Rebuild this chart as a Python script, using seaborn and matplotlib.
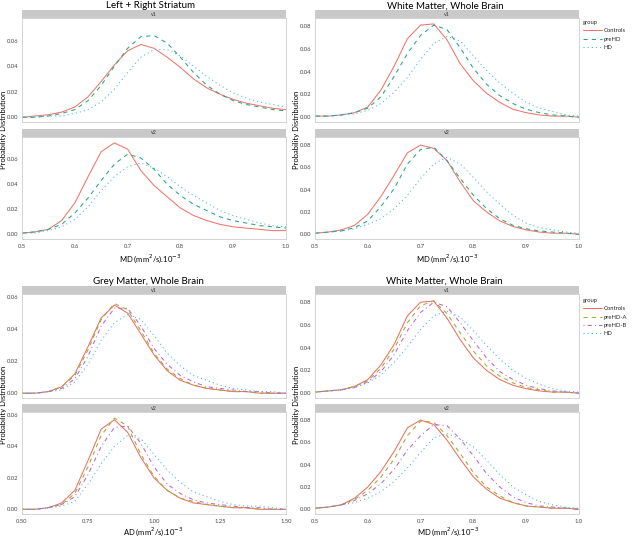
import numpy as np
import pandas as pd
import seaborn as sns
import matplotlib.pyplot as plt
from matplotlib.lines import Line2D
from matplotlib.patches import Rectangle

# eixos x (MD e AD, em mm2/s x 10^-3)
md_x = [0.500, 0.525, 0.550, 0.575, 0.600, 0.625, 0.650, 0.675, 0.700, 0.725, 0.750,
        0.775, 0.800, 0.825, 0.850, 0.875, 0.900, 0.925, 0.950, 0.975, 1.000]
ad_x = [0.50, 0.55, 0.60, 0.65, 0.70, 0.75, 0.80, 0.85, 0.90, 0.95, 1.00,
        1.05, 1.10, 1.15, 1.20, 1.25, 1.30, 1.35, 1.40, 1.45, 1.50]

groups3 = ['Controls', 'preHD', 'HD']
groups4 = ['Controls', 'preHD-A', 'preHD-B', 'HD']

# Left + Right Striatum
str_v1_controls = [0.000, 0.001, 0.002, 0.004, 0.008, 0.016, 0.028, 0.041, 0.052, 0.057, 0.054,
                   0.047, 0.039, 0.030, 0.023, 0.018, 0.014, 0.011, 0.009, 0.007, 0.006]
str_v1_prehd = [0.000, 0.000, 0.001, 0.003, 0.006, 0.013, 0.025, 0.040, 0.054, 0.063, 0.064,
                0.058, 0.047, 0.035, 0.025, 0.018, 0.013, 0.010, 0.008, 0.006, 0.005]
str_v1_hd = [0.000, 0.000, 0.001, 0.001, 0.003, 0.006, 0.012, 0.022, 0.035, 0.047, 0.053,
             0.053, 0.048, 0.040, 0.032, 0.025, 0.019, 0.015, 0.012, 0.010, 0.008]
str_v2_controls = [0.001, 0.002, 0.004, 0.011, 0.025, 0.046, 0.066, 0.073, 0.068, 0.051, 0.039,
                   0.030, 0.021, 0.015, 0.011, 0.008, 0.006, 0.005, 0.004, 0.003, 0.003]
str_v2_prehd = [0.001, 0.002, 0.004, 0.008, 0.017, 0.029, 0.043, 0.056, 0.064, 0.061, 0.052,
                0.040, 0.031, 0.024, 0.019, 0.014, 0.011, 0.009, 0.007, 0.006, 0.005]
str_v2_hd = [0.001, 0.001, 0.003, 0.006, 0.012, 0.022, 0.035, 0.046, 0.054, 0.057, 0.053,
             0.046, 0.038, 0.031, 0.025, 0.019, 0.015, 0.012, 0.009, 0.007, 0.006]

# White Matter, Whole Brain (MD, 3 grupos)
wm_v1_controls = [0.001, 0.001, 0.002, 0.004, 0.009, 0.024, 0.045, 0.069, 0.081, 0.082, 0.068,
                  0.047, 0.032, 0.021, 0.013, 0.007, 0.004, 0.002, 0.001, 0.001, 0.000]
wm_v1_prehd = [0.001, 0.001, 0.002, 0.004, 0.008, 0.018, 0.036, 0.056, 0.072, 0.081, 0.077,
               0.061, 0.043, 0.029, 0.019, 0.012, 0.007, 0.004, 0.002, 0.001, 0.000]
wm_v1_hd = [0.001, 0.001, 0.002, 0.003, 0.006, 0.012, 0.022, 0.035, 0.051, 0.065, 0.071,
            0.067, 0.054, 0.041, 0.030, 0.021, 0.013, 0.008, 0.005, 0.002, 0.001]
wm_v2_controls = [0.001, 0.002, 0.004, 0.008, 0.018, 0.034, 0.053, 0.073, 0.080, 0.077, 0.066,
                  0.047, 0.030, 0.020, 0.012, 0.007, 0.004, 0.002, 0.001, 0.001, 0.000]
wm_v2_prehd = [0.001, 0.002, 0.003, 0.006, 0.012, 0.025, 0.041, 0.063, 0.076, 0.078, 0.066,
               0.050, 0.035, 0.023, 0.014, 0.008, 0.005, 0.003, 0.002, 0.001, 0.000]
wm_v2_hd = [0.001, 0.002, 0.003, 0.005, 0.009, 0.014, 0.023, 0.035, 0.050, 0.063, 0.069,
            0.063, 0.051, 0.038, 0.027, 0.017, 0.010, 0.006, 0.004, 0.002, 0.001]

# Grey Matter, Whole Brain (AD, 4 grupos)
gm_v1_controls = [0.000, 0.000, 0.001, 0.004, 0.012, 0.029, 0.047, 0.055, 0.050, 0.037, 0.024,
                  0.014, 0.008, 0.005, 0.003, 0.002, 0.001, 0.001, 0.000, 0.000, 0.000]
gm_v1_preha = [0.000, 0.000, 0.001, 0.004, 0.011, 0.027, 0.046, 0.056, 0.052, 0.039, 0.025,
               0.015, 0.009, 0.005, 0.003, 0.002, 0.001, 0.001, 0.000, 0.000, 0.000]
gm_v1_prehb = [0.000, 0.000, 0.001, 0.003, 0.009, 0.023, 0.042, 0.053, 0.053, 0.042, 0.028,
               0.018, 0.011, 0.007, 0.004, 0.003, 0.002, 0.001, 0.001, 0.000, 0.000]
gm_v1_hd = [0.000, 0.000, 0.001, 0.002, 0.007, 0.018, 0.033, 0.044, 0.049, 0.046, 0.036,
            0.025, 0.017, 0.011, 0.008, 0.005, 0.003, 0.002, 0.001, 0.001, 0.000]
gm_v2_controls = [0.000, 0.000, 0.001, 0.004, 0.012, 0.031, 0.051, 0.057, 0.049, 0.033, 0.020,
                  0.012, 0.007, 0.004, 0.003, 0.002, 0.001, 0.001, 0.000, 0.000, 0.000]
gm_v2_preha = [0.000, 0.000, 0.001, 0.003, 0.010, 0.027, 0.047, 0.058, 0.053, 0.035, 0.021,
               0.012, 0.007, 0.005, 0.003, 0.002, 0.001, 0.001, 0.000, 0.000, 0.000]
gm_v2_prehb = [0.000, 0.000, 0.001, 0.003, 0.008, 0.022, 0.040, 0.052, 0.053, 0.042, 0.027,
               0.016, 0.010, 0.006, 0.004, 0.003, 0.002, 0.001, 0.001, 0.000, 0.000]
gm_v2_hd = [0.000, 0.000, 0.001, 0.002, 0.005, 0.016, 0.029, 0.040, 0.047, 0.045, 0.035,
            0.025, 0.017, 0.011, 0.008, 0.005, 0.003, 0.002, 0.002, 0.001, 0.000]

# White Matter, Whole Brain (MD, 4 grupos)
wm4_v1_controls = [0.001, 0.002, 0.003, 0.006, 0.012, 0.025, 0.043, 0.068, 0.080, 0.081, 0.066,
                   0.047, 0.031, 0.020, 0.012, 0.007, 0.004, 0.002, 0.001, 0.001, 0.000]
wm4_v1_preha = [0.001, 0.002, 0.003, 0.006, 0.011, 0.022, 0.039, 0.062, 0.077, 0.081, 0.070,
                0.053, 0.037, 0.024, 0.015, 0.009, 0.005, 0.003, 0.001, 0.001, 0.000]
wm4_v1_prehb = [0.001, 0.002, 0.003, 0.005, 0.010, 0.019, 0.034, 0.055, 0.071, 0.080, 0.076,
                0.062, 0.046, 0.031, 0.019, 0.012, 0.007, 0.004, 0.002, 0.001, 0.000]
wm4_v1_hd = [0.001, 0.002, 0.003, 0.005, 0.009, 0.016, 0.027, 0.041, 0.056, 0.068, 0.072,
             0.067, 0.055, 0.042, 0.030, 0.020, 0.013, 0.008, 0.004, 0.002, 0.001]
wm4_v2_controls = [0.001, 0.002, 0.004, 0.010, 0.020, 0.034, 0.052, 0.073, 0.080, 0.076, 0.062,
                   0.045, 0.029, 0.018, 0.010, 0.006, 0.003, 0.002, 0.001, 0.001, 0.000]
wm4_v2_preha = [0.001, 0.002, 0.004, 0.009, 0.017, 0.029, 0.045, 0.066, 0.079, 0.078, 0.066,
                0.050, 0.033, 0.020, 0.012, 0.006, 0.003, 0.002, 0.001, 0.001, 0.000]
wm4_v2_prehb = [0.001, 0.002, 0.004, 0.008, 0.014, 0.023, 0.036, 0.053, 0.066, 0.076, 0.075,
                0.063, 0.048, 0.032, 0.020, 0.011, 0.006, 0.003, 0.002, 0.001, 0.000]
wm4_v2_hd = [0.001, 0.002, 0.004, 0.006, 0.010, 0.016, 0.025, 0.037, 0.051, 0.064, 0.068,
             0.063, 0.056, 0.044, 0.031, 0.020, 0.013, 0.007, 0.004, 0.002, 0.001]

# cores e tipos de linha
cores3 = {'Controls': '#F0756A', 'preHD': '#1FA884', 'HD': '#3CB4D8'}
linhas3 = {'Controls': '', 'preHD': (4, 4), 'HD': (1, 3)}
cores4 = {'Controls': '#EE6F62', 'preHD-A': '#9FAA2E', 'preHD-B': '#B866D8', 'HD': '#3CB4D8'}
linhas4 = {'Controls': '', 'preHD-A': (4, 4), 'preHD-B': (1, 3, 4, 3), 'HD': (1, 3)}

sns.set_style('white')
plt.rcParams['font.family'] = ['Lato', 'DejaVu Sans']

W, H = 632, 542
fig = plt.figure(figsize=(W / 100, H / 100), dpi=100)


def eixo_px(left, top, right, bottom):
    return fig.add_axes([left / W, 1 - bottom / H, (right - left) / W, (bottom - top) / H])


def faceta(left, right, top, bottom, rotulo, x, curvas, nomes, cores, linhas,
           xlim, ylim, yticks, xticks=None, xfmt='%.1f'):
    # faixa cinza com o rótulo da faceta
    strip = eixo_px(left, top - 8, right, top)
    strip.add_patch(Rectangle((0, 0), 1, 1, color='#C9C9C9', transform=strip.transAxes))
    strip.text(0.5, 0.5, rotulo, ha='center', va='center', fontsize=3.8, color='#333333')
    strip.set_axis_off()

    ax = eixo_px(left, top, right, bottom)
    df = pd.DataFrame({'x': np.tile(x, len(nomes)),
                       'dens': np.concatenate(curvas),
                       'group': np.repeat(nomes, len(x))})
    sns.lineplot(data=df, x='x', y='dens', hue='group', style='group',
                 hue_order=nomes, style_order=nomes, palette=cores, dashes=linhas,
                 linewidth=0.75, errorbar=None, legend=False, ax=ax)
    ax.set_xlim(*xlim)
    ax.set_ylim(*ylim)
    ax.set_yticks(yticks)
    ax.set_yticklabels(['%.2f' % v for v in yticks])
    if xticks is not None:
        ax.set_xticks(xticks)
        ax.set_xticklabels([xfmt % v for v in xticks])
    else:
        ax.set_xticks([])
    ax.set_xlabel('')
    ax.set_ylabel('')
    for s in ax.spines.values():
        s.set_color('#C4C4C4')
        s.set_linewidth(0.5)
    ax.tick_params(axis='both', labelsize=4.2, colors='#444444', length=1.6, width=0.4, pad=1.2)
    ax.tick_params(axis='x', pad=2.2)
    return ax


ylim_a = (-0.0037, 0.0777)
ylim_b = (-0.0042, 0.0872)
ylim_c = (-0.003, 0.0619)
yt6 = [0.00, 0.02, 0.04, 0.06]
yt8 = [0.00, 0.02, 0.04, 0.06, 0.08]
xt_md = [0.5, 0.6, 0.7, 0.8, 0.9, 1.0]
xt_ad = [0.50, 0.75, 1.00, 1.25, 1.50]

# painel A
faceta(22, 286, 18, 122, 'v1', md_x, [str_v1_controls, str_v1_prehd, str_v1_hd],
       groups3, cores3, linhas3, (0.5, 1.0), ylim_a, yt6)
faceta(22, 286, 137, 239, 'v2', md_x, [str_v2_controls, str_v2_prehd, str_v2_hd],
       groups3, cores3, linhas3, (0.5, 1.0), ylim_a, yt6, xt_md)

# painel B
faceta(315, 579, 18, 122, 'v1', md_x, [wm_v1_controls, wm_v1_prehd, wm_v1_hd],
       groups3, cores3, linhas3, (0.5, 1.0), ylim_b, yt8)
faceta(315, 579, 137, 239, 'v2', md_x, [wm_v2_controls, wm_v2_prehd, wm_v2_hd],
       groups3, cores3, linhas3, (0.5, 1.0), ylim_b, yt8, xt_md)

# painel C
faceta(22, 286, 294, 398, 'v1', ad_x, [gm_v1_controls, gm_v1_preha, gm_v1_prehb, gm_v1_hd],
       groups4, cores4, linhas4, (0.5, 1.5), ylim_c, yt6)
faceta(22, 286, 412, 514, 'v2', ad_x, [gm_v2_controls, gm_v2_preha, gm_v2_prehb, gm_v2_hd],
       groups4, cores4, linhas4, (0.5, 1.5), ylim_c, yt6, xt_ad, '%.2f')

# painel D
faceta(315, 579, 294, 398, 'v1', md_x, [wm4_v1_controls, wm4_v1_preha, wm4_v1_prehb, wm4_v1_hd],
       groups4, cores4, linhas4, (0.5, 1.0), ylim_b, yt8)
faceta(315, 579, 412, 514, 'v2', md_x, [wm4_v2_controls, wm4_v2_preha, wm4_v2_prehb, wm4_v2_hd],
       groups4, cores4, linhas4, (0.5, 1.0), ylim_b, yt8, xt_md)

# títulos e rótulos
titulos = [(151, 6, 'Left + Right Striatum'), (445, 6, 'White Matter, Whole Brain'),
           (148, 281, 'Grey Matter, Whole Brain'), (444, 281, 'White Matter, Whole Brain')]
for x, y, t in titulos:
    fig.text(x / W, 1 - y / H, t, ha='center', va='center', fontsize=7, color='black')

xlabels = [(150, 259, r'MD (mm$^2$/s).10$^{-3}$'), (447, 259, r'MD (mm$^2$/s).10$^{-3}$'),
           (153, 532, r'AD (mm$^2$/s).10$^{-3}$'), (448, 532, r'MD (mm$^2$/s).10$^{-3}$')]
for x, y, t in xlabels:
    fig.text(x / W, 1 - y / H, t, ha='center', va='center', fontsize=5.5, color='black')

for x, y in [(4, 130), (296, 130), (4, 405), (296, 405)]:
    fig.text(x / W, 1 - y / H, 'Probability Distribution', rotation=90,
             ha='center', va='center', fontsize=5.5, color='black')

# legendas
def legenda(nomes, cores, linhas, top):
    handles = [Line2D([], [], color=cores[n], lw=0.75,
                      linestyle='-' if linhas[n] == '' else (0, linhas[n])) for n in nomes]
    leg = fig.legend(handles, nomes, title='group', loc='upper left',
                     bbox_to_anchor=(583 / W, 1 - top / H), fontsize=4.2, title_fontsize=4.2,
                     frameon=False, handlelength=3.2, handletextpad=0.4, labelspacing=0.55,
                     borderpad=0, borderaxespad=0, alignment='left')
    return leg

legenda(groups3, cores3, linhas3, 20)
legenda(groups4, cores4, linhas4, 298)

plt.savefig('out.png', dpi=100)
